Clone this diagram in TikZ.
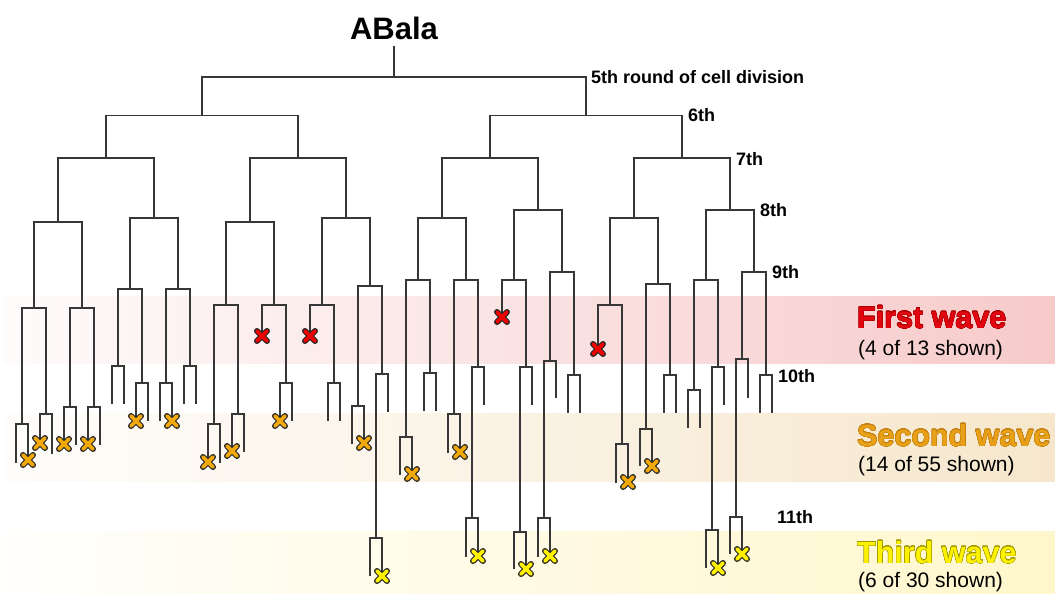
\documentclass[tikz,border=0pt]{standalone}
\usepackage{fontspec}
\setmainfont{Liberation Sans}
\usepackage{contour}
\contournumber{24}
\definecolor{treec}{RGB}{55,55,55}
\definecolor{redw}{RGB}{226,6,18}
\definecolor{orw}{RGB}{232,160,24}
\definecolor{yelw}{RGB}{252,242,0}
\definecolor{redo}{RGB}{175,0,0}
\definecolor{oro}{RGB}{195,128,16}
\definecolor{yelo}{RGB}{160,150,0}
\definecolor{bandR}{RGB}{247,202,202}
\definecolor{bandO}{RGB}{246,231,204}
\definecolor{bandY}{RGB}{255,247,204}
\definecolor{xred}{RGB}{236,0,0}
\definecolor{xora}{RGB}{240,168,10}
\definecolor{xyel}{RGB}{255,240,0}
\newcommand\tfork[5]{\draw[tree] (#1,#2) -- (#1,#5) -- (#3,#5) -- (#3,#4);}
\newcommand\xm[3]{%
  \draw[line width=6pt,line cap=round,black!85] (#1-5,#2-5) -- (#1+5,#2+5) (#1-5,#2+5) -- (#1+5,#2-5);
  \draw[line width=3.8pt,line cap=round,#3] (#1-5,#2-5) -- (#1+5,#2+5) (#1-5,#2+5) -- (#1+5,#2-5);}
\begin{document}
\begin{tikzpicture}[x=1pt,y=-1pt,
  tree/.style={draw=treec,line width=1.5pt,line join=miter,line cap=rect},
  lab/.style={anchor=base west,inner sep=0pt,font=\fontsize{18}{18}\selectfont\bfseries},
  wave/.style={anchor=base west,inner sep=0pt,font=\fontsize{30.5}{30.5}\selectfont\bfseries},
  sub/.style={anchor=base west,inner sep=0pt,font=\fontsize{21}{21}\selectfont}]
\useasboundingbox (0,0) rectangle (1055,594);
\fill[white] (0,0) rectangle (1055,594);
% bands
\shade[left color=bandR!8!white,right color=bandR] (4,296) rectangle (1055,363);
\shade[left color=bandO!8!white,right color=bandO] (4,413) rectangle (1055,481);
\shade[left color=bandY!8!white,right color=bandY] (4,531) rectangle (1055,594);
% root
\node[anchor=base,inner sep=0pt,font=\fontsize{31}{31}\selectfont\bfseries] (root) at (394,40) {ABala};
\coordinate (rootbar) at (394,77);
\draw[tree] (394,47) -- (rootbar);
% level 5
\tfork{202}{115.7}{586}{115.7}{77}
% level 6
\tfork{106}{158}{298}{158}{115.7}
\tfork{490}{158}{682}{158}{115.7}
% level 7
\tfork{58}{222}{154}{218}{158}
\tfork{250}{222}{346}{218}{158}
\tfork{442}{218}{538}{210}{158}
\tfork{634}{218}{730}{210}{158}
% level 8
\tfork{34}{308}{82}{308}{222}
\tfork{130}{289}{178}{289}{218}
\tfork{226}{305}{274}{305}{222}
\tfork{322}{305}{370}{286}{218}
\tfork{418}{280}{466}{280}{218}
\tfork{514}{280}{562}{272}{210}
\tfork{610}{305}{658}{284}{218}
\tfork{706}{280}{754}{272}{210}
% level 9
\tfork{22}{424}{46}{414}{308}
\tfork{70}{407}{94}{407}{308}
\tfork{118}{366}{142}{383}{289}
\tfork{166}{383}{190}{366}{289}
\tfork{214}{424}{238}{414}{305}
\tfork{262}{336}{286}{383}{305}
\tfork{310}{336}{334}{383}{305}
\tfork{358}{406}{382}{374}{286}
\tfork{406}{437}{430}{373}{280}
\tfork{454}{414}{478}{367}{280}
\tfork{502}{317}{526}{367}{280}
\tfork{550}{361}{574}{375}{272}
\tfork{598}{349}{622}{444}{305}
\tfork{646}{429}{670}{375}{284}
\tfork{694}{390}{718}{367}{280}
\tfork{742}{359}{766}{375}{272}
% level 10
\tfork{16}{462}{28}{460}{424}
\tfork{40}{443}{52}{453}{414}
\tfork{64}{444}{76}{444}{407}
\tfork{88}{444}{100}{444}{407}
\tfork{112}{403}{124}{403}{366}
\tfork{136}{421}{148}{420}{383}
\tfork{160}{420}{172}{421}{383}
\tfork{184}{403}{196}{403}{366}
\tfork{208}{462}{220}{462}{424}
\tfork{232}{451}{244}{451}{414}
\tfork{280}{421}{292}{420}{383}
\tfork{328}{420}{340}{420}{383}
\tfork{352}{443}{364}{443}{406}
\tfork{376}{538}{388}{411}{374}
\tfork{400}{474}{412}{474}{437}
\tfork{424}{410}{436}{410}{373}
\tfork{448}{452}{460}{452}{414}
\tfork{472}{518}{484}{404}{367}
\tfork{520}{532}{532}{404}{367}
\tfork{544}{518}{556}{397}{361}
\tfork{568}{412}{580}{412}{375}
\tfork{616}{482}{628}{482}{444}
\tfork{640}{465}{652}{466}{429}
\tfork{664}{412}{676}{412}{375}
\tfork{688}{427}{700}{427}{390}
\tfork{712}{530}{724}{404}{367}
\tfork{736}{517}{748}{397}{359}
\tfork{760}{412}{772}{412}{375}
% level 11
\tfork{370}{575}{382}{576}{538}
\tfork{466}{556}{478}{556}{518}
\tfork{514}{568}{526}{569}{532}
\tfork{538}{556}{550}{556}{518}
\tfork{706}{567}{718}{568}{530}
\tfork{730}{553}{742}{554}{517}
% red marks
\xm{262}{336}{xred}
\xm{310}{336}{xred}
\xm{502}{317}{xred}
\xm{598}{349}{xred}
% orange marks
\xm{28}{460}{xora}
\xm{40}{443}{xora}
\xm{64}{444}{xora}
\xm{88}{444}{xora}
\xm{136}{421}{xora}
\xm{172}{421}{xora}
\xm{208}{462}{xora}
\xm{232}{451}{xora}
\xm{280}{421}{xora}
\xm{364}{443}{xora}
\xm{412}{474}{xora}
\xm{460}{452}{xora}
\xm{628}{482}{xora}
\xm{652}{466}{xora}
% yellow marks
\xm{382}{576}{xyel}
\xm{478}{556}{xyel}
\xm{526}{569}{xyel}
\xm{550}{556}{xyel}
\xm{718}{568}{xyel}
\xm{742}{554}{xyel}
% round labels
\node[lab] (l5) at (591,83.5) {5th round of cell division};
\node[lab] (l6) at (688,121.7) {6th};
\node[lab] (l7) at (736,165) {7th};
\node[lab] (l8) at (760,216.7) {8th};
\node[lab] (l9) at (772,278) {9th};
\node[lab] (l10) at (778,382) {10th};
\node[lab] (l11) at (777,523) {11th};
% wave labels
\contourlength{0.35pt}
\node[wave] (w1) at (857,328) {\contour{redo}{\textcolor{redw}{First wave}}};
\node[sub] (s1) at (858,355) {(4 of 13 shown)};
\node[wave] (w2) at (857,446) {\contour{oro}{\textcolor{orw}{Second wave}}};
\node[sub] (s2) at (858,471) {(14 of 55 shown)};
\node[wave] (w3) at (857,563) {\contour{yelo}{\textcolor{yelw}{Third wave}}};
\node[sub] (s3) at (858,587) {(6 of 30 shown)};
\end{tikzpicture}
\end{document}
